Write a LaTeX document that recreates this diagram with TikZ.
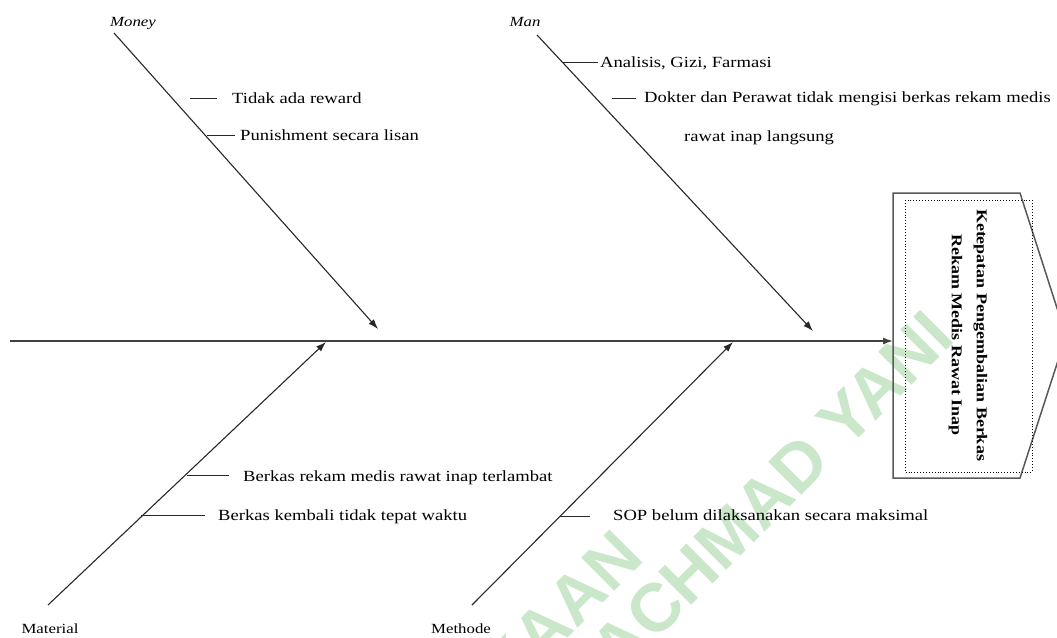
\documentclass[tikz,border=0pt]{standalone}
\usepackage{fontspec}
\setmainfont{Liberation Serif}[FakeStretch=1.2]
\newfontfamily\wmfont{Liberation Sans}[BoldFont={Liberation Sans Bold}]
\usetikzlibrary{arrows.meta}
\definecolor{wmgreen}{RGB}{202,231,202}
\definecolor{linegray}{RGB}{40,40,40}
\tikzset{
  cause/.style={font=\fontsize{15.5}{18}\selectfont, anchor=base west, inner sep=0pt},
  cat/.style={font=\fontsize{14}{17}\selectfont, anchor=base, inner sep=0pt},
  branch/.style={draw=linegray, line width=1.1pt, -{Latex[length=10pt,width=7pt]}},
  tickline/.style={draw=linegray, line width=0.9pt},
  spineline/.style={draw=black!75, line width=1.4pt, -{Latex[length=10pt,width=7pt]}},
  watermark/.style={text=wmgreen, font=\wmfont\bfseries\fontsize{68}{70}\selectfont, inner sep=0pt, rotate=45, anchor=base east}
}
\begin{document}
\begin{tikzpicture}[x=1pt,y=-1pt]
\useasboundingbox (0,0) rectangle (1057,637);
\clip (0,0) rectangle (1057,637);
\fill[white] (0,0) rectangle (1057,637);

% watermark
\node[watermark] (wm1) at (646,560) {KAAN};
\node[watermark] (wm2) at (957,340) {ACHMAD YANI};

% effect box
\coordinate (bTL) at (893,193);
\coordinate (bTR) at (1020,193);
\coordinate (bP) at (1066,336);
\coordinate (bBR) at (1020,478);
\coordinate (bBL) at (893,478);
\draw[draw=black!65, line width=1.5pt] (bTL) -- (bTR) -- (bP) -- (bBR) -- (bBL) -- cycle;
\draw[dotted, line width=0.9pt] (905,200) rectangle (1032,472);
\node[rotate=-90, align=center, inner sep=0pt,
      font=\bfseries\fontsize{15}{25}\selectfont] (effect) at (968,335)
  {Ketepatan Pengembalian Berkas\\Rekam Medis Rawat Inap};

% spine
\coordinate (spineS) at (10,341);
\coordinate (spineE) at (893,341);
\draw[spineline] (spineS) -- (spineE);

% category labels
\node[cat, font=\itshape\fontsize{14}{17}\selectfont] (money) at (133,27) {Money};
\node[cat, font=\itshape\fontsize{14}{17}\selectfont] (man) at (525,27) {Man};
\node[cat] (material) at (50,633) {Material};
\node[cat] (methode) at (461,633) {Methode};

% branches
\coordinate (moneyS) at (114,33);
\coordinate (moneyT) at (378,329);
\coordinate (manS) at (537,35);
\coordinate (manT) at (813,331);
\coordinate (matS) at (48,605);
\coordinate (matT) at (326,342);
\coordinate (metS) at (472,605);
\coordinate (metT) at (733,342);
\draw[branch] (moneyS) -- (moneyT);
\draw[branch] (manS) -- (manT);
\draw[branch] (matS) -- (matT);
\draw[branch] (metS) -- (metT);

% Money causes
\node[cause] (c1) at (232,103) {Tidak ada reward};
\node[cause] (c2) at (240,140) {Punishment secara lisan};
\coordinate (c1a) at (190,98); \coordinate (c1b) at (217,98);
\coordinate (c2a) at (207,135); \coordinate (c2b) at (235,135);
\draw[tickline] (c1a) -- (c1b);
\draw[tickline] (c2a) -- (c2b);

% Man causes
\node[cause] (c3) at (600,67) {Analisis, Gizi, Farmasi};
\node[cause] (c4) at (644,102) {Dokter dan Perawat tidak mengisi berkas rekam medis};
\node[cause] (c5) at (684,141) {rawat inap langsung};
\coordinate (c3a) at (563,62); \coordinate (c3b) at (598,62);
\coordinate (c4a) at (612,98); \coordinate (c4b) at (636,98);
\draw[tickline] (c3a) -- (c3b);
\draw[tickline] (c4a) -- (c4b);

% Material causes
\node[cause] (c6) at (243,481) {Berkas rekam medis rawat inap terlambat};
\node[cause] (c7) at (218,520) {Berkas kembali tidak tepat waktu};
\coordinate (c6a) at (187,475); \coordinate (c6b) at (229,475);
\coordinate (c7a) at (141,515); \coordinate (c7b) at (205,515);
\draw[tickline] (c6a) -- (c6b);
\draw[tickline] (c7a) -- (c7b);

% Methode causes
\node[cause] (c8) at (613,520) {SOP belum dilaksanakan secara maksimal};
\coordinate (c8a) at (560,516); \coordinate (c8b) at (590,516);
\draw[tickline] (c8a) -- (c8b);
\end{tikzpicture}
\end{document}
